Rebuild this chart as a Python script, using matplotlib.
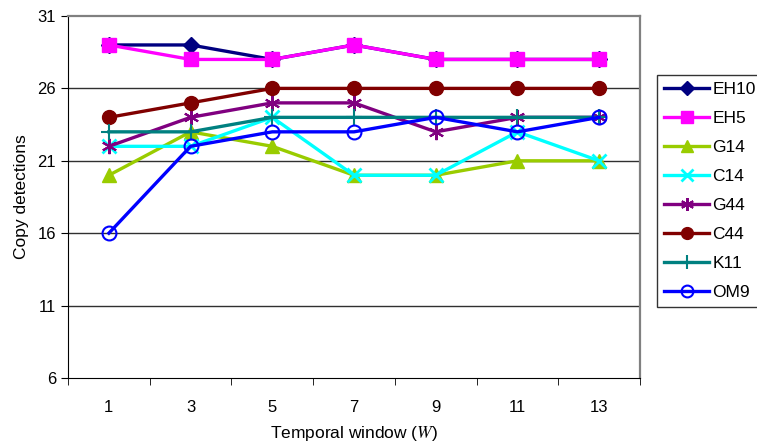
import matplotlib
matplotlib.use("Agg")
import matplotlib.pyplot as plt
import numpy as np

plt.rcParams['font.family'] = ['Liberation Sans', 'DejaVu Sans']
plt.rcParams['mathtext.fontset'] = 'stix'

# data
windows = ["1", "3", "5", "7", "9", "11", "13"]
eh10 = [29, 29, 28, 29, 28, 28, 28]
eh5 = [29, 28, 28, 29, 28, 28, 28]
g14 = [20, 23, 22, 20, 20, 21, 21]
c14 = [22, 22, 24, 20, 20, 23, 21]
g44 = [22, 24, 25, 25, 23, 24, 24]
c44 = [24, 25, 26, 26, 26, 26, 26]
k11 = [23, 23, 24, 24, 24, 24, 24]
om9 = [16, 22, 23, 23, 24, 23, 24]

series = [
    ("EH10", eh10, "#000080", dict(marker="D", ms=8)),
    ("EH5", eh5, "#FF00FF", dict(marker="s", ms=10)),
    ("G14", g14, "#99CC00", dict(marker="^", ms=10)),
    ("C14", c14, "#00FFFF", dict(marker="x", ms=10, mew=2)),
    ("G44", g44, "#800080", dict(marker=(6, 2, 0), ms=11, mew=1.5)),
    ("C44", c44, "#800000", dict(marker="o", ms=10)),
    ("K11", k11, "#008080", dict(marker="+", ms=12, mew=1.5)),
    ("OM9", om9, "#0000FF", dict(marker="o", ms=10, mfc="none", mew=1.5)),
]

fig = plt.figure(figsize=(7.57, 4.45), dpi=100)
ax = fig.add_axes([68 / 757, 1 - 378 / 445, (640 - 68) / 757, (378 - 16) / 445])

x = np.arange(len(windows))
for name, vals, color, style in series:
    ax.plot(x, vals, color=color, lw=2.4, label=name, **style)

ax.set_xlim(-0.5, len(windows) - 0.5)
ax.set_ylim(6, 31)
ax.set_yticks(range(6, 32, 5))
ax.set_xticks(x)
ax.set_xticklabels(windows)
ax.set_xticks(np.arange(-0.5, len(windows), 1), minor=True)
ax.tick_params(axis="x", which="major", length=0, pad=16, labelsize=12)
ax.tick_params(axis="x", which="minor", length=5, direction="out")
ax.tick_params(axis="y", length=5, direction="out", labelsize=12)

for y in range(11, 31, 5):
    ax.axhline(y, color="#303030", lw=1, zorder=0)

ax.spines["left"].set_color("black")
ax.spines["bottom"].set_color("black")
ax.spines["top"].set_color("#808080")
ax.spines["right"].set_color("#808080")
ax.spines["top"].set_linewidth(1.6)
ax.spines["right"].set_linewidth(1.6)

ax.set_xlabel("Temporal window ($W$)", fontsize=12.5, labelpad=6)
ax.set_ylabel("Copy detections", fontsize=12.5, labelpad=6)

fig.legend(loc="upper left", bbox_to_anchor=(657 / 757, 1 - 75 / 445),
           fontsize=12.5, frameon=True, fancybox=False, edgecolor="black",
           handlelength=2.6, labelspacing=0.8, handletextpad=0.2,
           borderpad=0.4, borderaxespad=0, markerscale=0.85)

fig.savefig("out.png", dpi=100)
